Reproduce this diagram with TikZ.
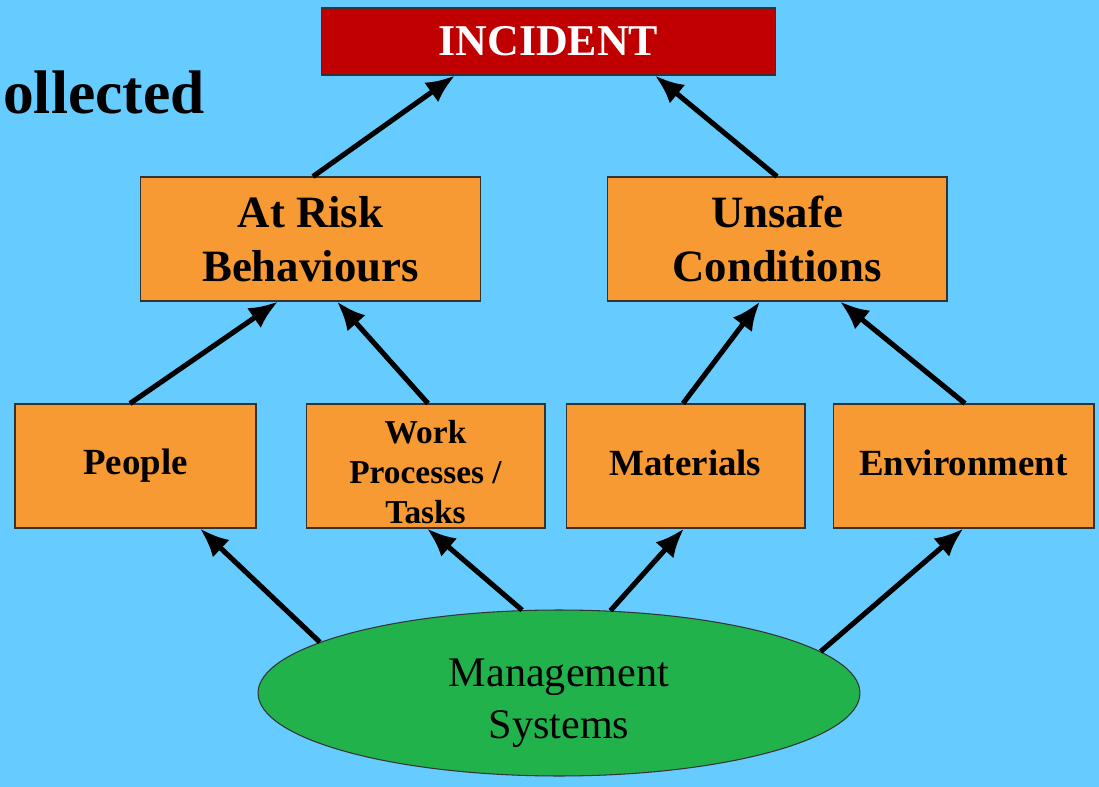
\documentclass[tikz,border=0pt]{standalone}
\usepackage{fontspec}
\setmainfont{Liberation Serif}
\usepackage{tikz}
\usetikzlibrary{arrows.meta,shapes}

\definecolor{sky}{HTML}{66CBFF}
\definecolor{boxorange}{HTML}{F79A33}
\definecolor{incred}{HTML}{C00000}
\definecolor{mgmtgreen}{HTML}{22B24C}

\begin{document}
\begin{tikzpicture}[x=0.02cm,y=-0.02cm]
		\tikzset{cause/.style = {shape=rectangle,draw=black!80,fill=boxorange,line width=0.6pt,minimum height=2.48cm,inner sep=2pt,align=center,font=\bfseries\fontsize{21}{25}\selectfont}}
		\tikzset{edge/.style = {-{Latex[length=0.58cm,width=0.48cm]},line width=2.9pt,black}}
		
		\fill[sky] (0,0) rectangle (1099,787);
		\useasboundingbox (0,0) rectangle (1099,787);
		
		\node[anchor=base east,inner sep=0pt,font=\bfseries\fontsize{35}{40}\selectfont] (title) at (205,114) {ollected};
		
		\node[shape=rectangle,draw=black!80,fill=incred,text=white,line width=0.6pt,minimum width=9.1cm,minimum height=1.34cm,font=\bfseries\fontsize{25}{30}\selectfont] (inc) at (548.5,41.5) {INCIDENT};
		
		\node[cause,minimum width=6.82cm,font=\bfseries\fontsize{25.5}{31}\selectfont] (risk) at (310.5,239) {At Risk\\Behaviours};
		\node[cause,minimum width=6.8cm,font=\bfseries\fontsize{25.5}{31}\selectfont] (unsafe) at (777,239) {Unsafe\\Conditions};
		
		\node[cause,minimum width=4.82cm] (people) at (135.5,466) {People};
		\node[cause,minimum width=4.78cm,
			label={[name=worktext,align=center,yshift=-0.12cm,font=\bfseries\fontsize{19}{23}\selectfont]center:Work\\Processes /\\Tasks}] (work) at (425.5,466) {};
		\node[cause,minimum width=4.78cm,text depth=0.12cm] (mat) at (685.5,466) {Materials};
		\node[cause,minimum width=5.22cm,text depth=0.12cm] (env) at (963.5,466) {Environment};
		
		\node[shape=ellipse,draw=black!80,fill=mgmtgreen,line width=0.6pt,minimum width=12.04cm,minimum height=3.32cm,inner sep=0pt,
			label={[name=mgmttext,align=center,yshift=-0.2cm,font=\fontsize{24}{29.5}\selectfont]center:Management\\Systems}] (mgmt) at (559,693) {};
		
		\draw[edge] ([xshift=0.05cm]risk.north) to ([xshift=-1.87cm]inc.south);
		\draw[edge] (unsafe.north) to ([xshift=2.13cm]inc.south);
		
		\draw[edge] ([xshift=-0.11cm]people.north) to ([xshift=-0.65cm]risk.south);
		\draw[edge] ([xshift=0.05cm]work.north) to ([xshift=0.53cm]risk.south);
		\draw[edge] ([xshift=-0.05cm]mat.north) to ([xshift=-0.34cm]unsafe.south);
		\draw[edge] ([xshift=0.03cm]env.north) to ([xshift=1.26cm]unsafe.south);
		
		\draw[edge] (mgmt.168) to ([xshift=1.29cm]people.south);
		\draw[edge] (mgmt.114) to ([xshift=0.03cm]work.south);
		\draw[edge] (mgmt.58) to ([xshift=-0.03cm]mat.south);
		\draw[edge] (mgmt.9) to (env.south);
		\end{tikzpicture}
\end{document}
